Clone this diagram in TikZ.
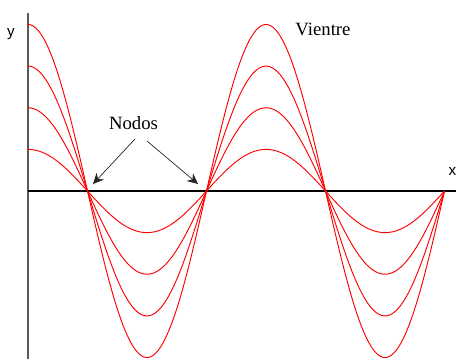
\documentclass[tikz,border=0pt]{standalone}
\usepackage{fontspec}
\setmainfont{Liberation Serif}
\newfontfamily\ejefont{Liberation Sans}
\usetikzlibrary{arrows.meta}

\begin{document}
\begin{tikzpicture}[x=0.03cm, y=-0.03cm,
	onda/.style={red, line width=.8pt, domain=28:444.5, samples=300},
	eje/.style={black!65, line width=1.4pt},
	flecha/.style={black!85, line width=.6pt, -{Stealth[length=3.2mm, width=3mm]}},
	rotulo/.style={inner sep=0pt, anchor=base, font=\fontsize{16}{18}\selectfont}]
	\useasboundingbox (0,0) rectangle (456,359);
	
	% ejes
	\coordinate (O) at (28,191);
	\coordinate (ytop) at (28,13);
	\coordinate (ybot) at (28,359);
	\coordinate (xend) at (456,191);
	\draw[eje] (ytop) -- (ybot);
	\draw[black, line width=1pt] (O) -- (xend);
	\node[inner sep=0pt, anchor=base, font=\ejefont\fontsize{13}{15}\selectfont] (ylab) at (11,36){y};
	\node[inner sep=0pt, anchor=base, font=\ejefont\fontsize{13}{15}\selectfont] (xlab) at (452.5,175){x};
	
	% ondas estacionarias
	\draw[onda] plot (\x,{191-166.5*cos(1.51261*(\x-28))});
	\draw[onda] plot (\x,{191-124.9*cos(1.51261*(\x-28))});
	\draw[onda] plot (\x,{191-83.2*cos(1.51261*(\x-28))});
	\draw[onda] plot (\x,{191-41.6*cos(1.51261*(\x-28))});
	
	% rotulos
	\node[rotulo] (vientre) at (323,35){Vientre};
	\node[rotulo] (nodos) at (133.5,129){Nodos};
	
	\coordinate (n1) at (93,184);
	\coordinate (n2) at (198,184);
	\draw[flecha] ([shift={(1.5,10)}]nodos.base) -- (n1);
	\draw[flecha] ([shift={(13.5,12)}]nodos.base) -- (n2);
	
\end{tikzpicture}
\end{document}
